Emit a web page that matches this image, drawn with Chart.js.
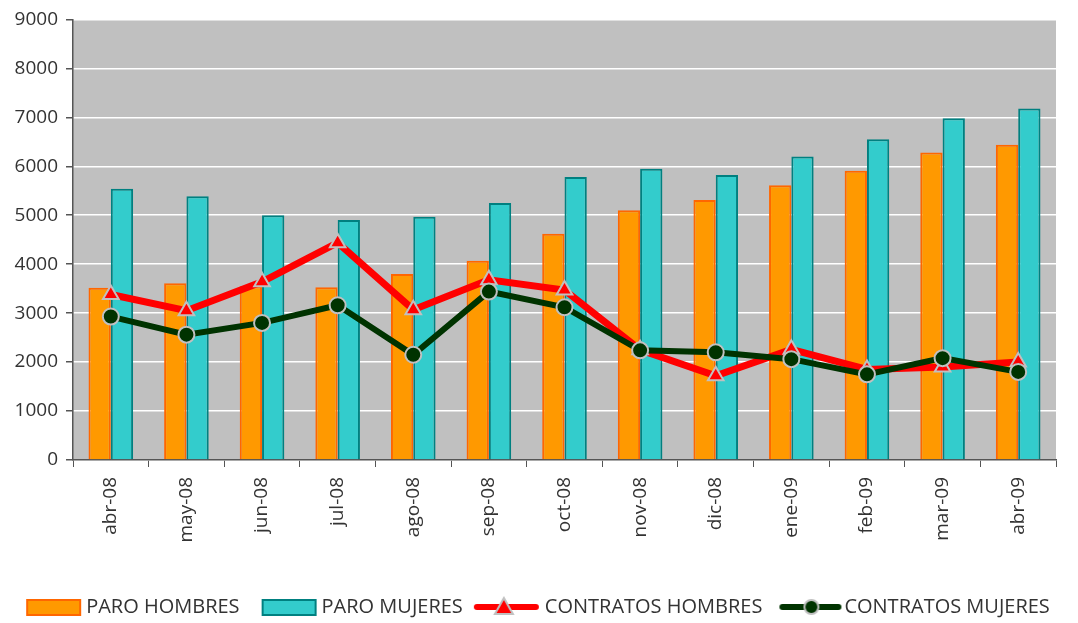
<!DOCTYPE html>
<html>
<head>
<meta charset="utf-8">
<script src="https://cdn.jsdelivr.net/npm/chart.js@4/dist/chart.umd.min.js"></script>
<style>
  html, body { margin: 0; padding: 0; background: #fff; }
  #wrap { width: 1078px; height: 623px; position: relative; }
</style>
</head>
<body>
<div id="wrap"><canvas id="mainChart"></canvas></div>
<script>
const months = ['abr-08', 'may-08', 'jun-08', 'jul-08', 'ago-08', 'sep-08', 'oct-08',
  'nov-08', 'dic-08', 'ene-09', 'feb-09', 'mar-09', 'abr-09'];
const paroHombres = [3520, 3610, 3550, 3530, 3800, 4070, 4620, 5100, 5310, 5610, 5910, 6280, 6440];
const paroMujeres = [5540, 5390, 5000, 4900, 4970, 5250, 5780, 5950, 5820, 6200, 6550, 6980, 7180];
const contratosHombres = [3380, 3050, 3640, 4440, 3070, 3680, 3470, 2250, 1720, 2260, 1850, 1900, 2000];
const contratosMujeres = [2930, 2560, 2800, 3160, 2150, 3440, 3120, 2240, 2200, 2060, 1750, 2080, 1800];
const yTicks = [0, 1000, 2000, 3000, 4000, 5000, 6000, 7000, 8000, 9000];

const FONT = "'Open Sans', 'DejaVu Sans', sans-serif";

// legend swatches drawn into small canvases (100px wide, centred on a 70px box)
function swatch(kind, fill, stroke) {
  const cv = document.createElement('canvas');
  cv.width = 100; cv.height = 22;
  const g = cv.getContext('2d');
  if (kind === 'box') {
    g.fillStyle = fill;
    g.strokeStyle = stroke;
    g.lineWidth = 2;
    g.fillRect(36, 4, 53, 15);
    g.strokeRect(36, 4, 53, 15);
    return cv;
  }
  const tri = kind === 'tri';
  g.strokeStyle = fill;
  g.lineWidth = 6;
  g.lineCap = 'round';
  g.beginPath();
  g.moveTo(tri ? 27 : 33, 11);
  g.lineTo(tri ? 86 : 89, 11);
  g.stroke();
  g.fillStyle = fill;
  g.strokeStyle = '#c0c0c0';
  g.lineWidth = 2;
  g.beginPath();
  if (tri) {
    g.moveTo(54, 2); g.lineTo(63, 18); g.lineTo(45, 18); g.closePath();
  } else {
    g.arc(62, 11, 7, 0, Math.PI * 2);
  }
  g.fill(); g.stroke();
  return cv;
}

const plotBg = {
  id: 'plotBg',
  beforeDraw(chart) {
    const a = chart.chartArea, ctx = chart.ctx;
    ctx.save();
    ctx.fillStyle = '#c0c0c0';
    ctx.fillRect(a.left, a.top, a.right - a.left, a.bottom - a.top);
    ctx.restore();
  }
};

const data = {
  labels: months,
  datasets: [
    {
      type: 'bar', label: 'PARO HOMBRES', data: paroHombres, order: 3,
      backgroundColor: '#ff9900', borderColor: '#ff6600', borderWidth: 2,
      categoryPercentage: 0.59, barPercentage: 1,
      legendImg: swatch('box', '#ff9900', '#ff6600')
    },
    {
      type: 'bar', label: 'PARO MUJERES', data: paroMujeres, order: 3,
      backgroundColor: '#33cccc', borderColor: '#008080', borderWidth: 2,
      categoryPercentage: 0.59, barPercentage: 1,
      legendImg: swatch('box', '#33cccc', '#008080')
    },
    {
      type: 'line', label: 'CONTRATOS HOMBRES', data: contratosHombres, order: 2,
      borderColor: '#ff0000', borderWidth: 7, backgroundColor: '#ff0000',
      pointStyle: 'triangle', pointRadius: 9, pointBorderColor: '#c0c0c0',
      pointBorderWidth: 2, pointBackgroundColor: '#ff0000', tension: 0,
      legendImg: swatch('tri', '#ff0000')
    },
    {
      type: 'line', label: 'CONTRATOS MUJERES', data: contratosMujeres, order: 1,
      borderColor: '#003300', borderWidth: 6, backgroundColor: '#003300',
      pointStyle: 'circle', pointRadius: 8, pointBorderColor: '#c0c0c0',
      pointBorderWidth: 2, pointBackgroundColor: '#003300', tension: 0,
      legendImg: swatch('circ', '#003300')
    }
  ]
};

const config = {
  type: 'bar',
  data: data,
  options: {
    responsive: true,
    maintainAspectRatio: false,
    animation: false,
    layout: { padding: { top: 11, right: 22, left: 0, bottom: -4 } },
    scales: {
      x: {
        afterFit: axis => { axis.height = 135; },
        grid: { drawOnChartArea: false, offset: true, tickLength: 7, color: '#555', tickColor: '#555' },
        border: { color: '#555', width: 1.5 },
        ticks: {
          minRotation: 90, maxRotation: 90, autoSkip: false,
          color: '#333', padding: 10, font: { family: FONT, size: 19 }
        }
      },
      y: {
        min: 0, max: 9000,
        afterFit: axis => { axis.width = 73; },
        afterBuildTicks: axis => { axis.ticks = yTicks.map(v => ({ value: v })); },
        grid: { color: '#ffffff', lineWidth: 1.5, tickLength: 7, tickColor: '#555' },
        border: { color: '#555', width: 1.5 },
        ticks: {
          color: '#333', padding: 8, font: { family: FONT, size: 19 },
          callback: v => String(v)
        }
      }
    },
    plugins: {
      tooltip: { enabled: false },
      legend: {
        position: 'bottom',
        labels: {
          usePointStyle: true,
          pointStyleWidth: 70,
          padding: 2,
          color: '#333',
          font: { family: FONT, size: 20 },
          generateLabels: chart => chart.data.datasets.map((ds, i) => ({
            text: ds.label,
            pointStyle: ds.legendImg,
            fillStyle: ds.backgroundColor,
            strokeStyle: ds.borderColor,
            lineWidth: 0,
            fontColor: '#333',
            hidden: false,
            datasetIndex: i
          }))
        }
      }
    }
  },
  plugins: [plotBg]
};

const c = new Chart('mainChart', config);
</script>
</body>
</html>
